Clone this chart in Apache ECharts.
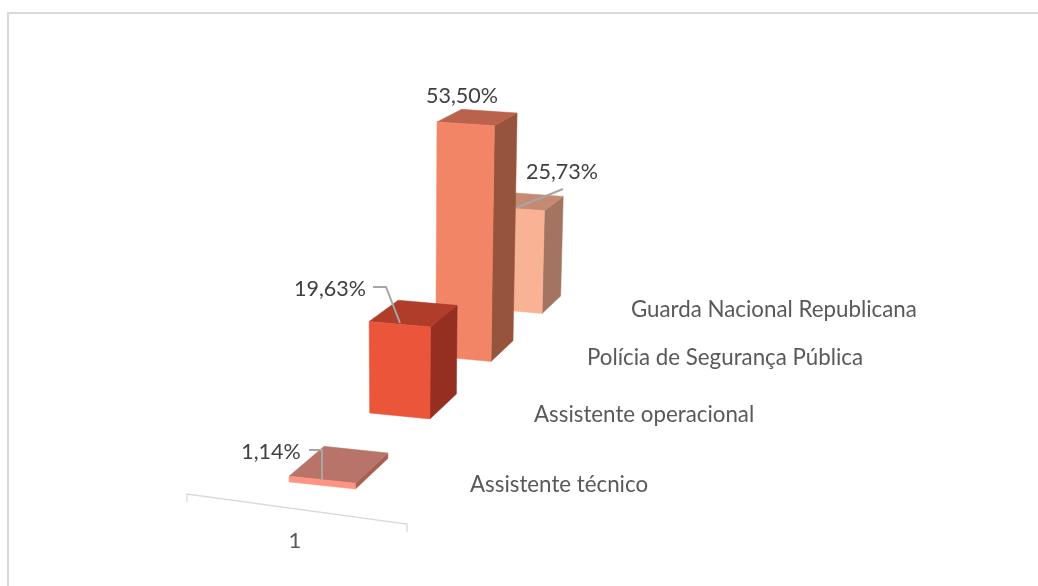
<!DOCTYPE html>
<html>
<head>
<meta charset="utf-8">
<style>
    html, body { margin: 0; padding: 0; background: #fff; }
    #chart { width: 1038px; height: 586px; }
</style>
<script src="https://cdn.jsdelivr.net/npm/echarts@6/dist/echarts.min.js"></script>
</head>
<body>
<div id="chart"></div>
<script>
    var categories = ["Assistente técnico", "Assistente operacional", "Polícia de Segurança Pública", "Guarda Nacional Republicana"];
    var shares = [1.14, 19.63, 53.5, 25.73];
    var xTick = ["1"];

    // colours per bar: front, top, side
    var frontColors = ["#FF9482", "#EB553A", "#F38567", "#F9B294"];
    var topColors = ["#B87468", "#B03C2A", "#BA634C", "#C48A72"];
    var sideColors = ["#A85F52", "#952F22", "#96543D", "#A37560"];

    // where the labels sit on the page, and the leader from label to bar
    var labelAt = [[271, 452], [330, 289], [462, 96], [562, 172]];
    var leaders = [
        [[309, 450], [322, 450], [322, 479]],
        [[373, 287], [386, 287], [400, 323]],
        [],
        [[516, 208], [563, 189]]
    ];
    var nameAt = [[470, 485], [534, 415], [587, 358], [631, 310]];

    // hidden grid: one band = 1 depth step, 50% = 1 world unit of height
    var gridBox = { left: 100, top: 100, width: 400, height: 300 };
    var yMax = 60;
    var barDepth = 0.41;
    var H = [63.726148, -16.996253, 120.581235, 289.167917,
             3.612010, -271.739104, -24.106638, 481.877477,
             -0.007215, -0.042085, 0.108505];

    // fitted perspective camera of the original 3D chart
    function project(x, y, z) {
        var w = H[8] * x + H[9] * y + H[10] * z + 1;
        return [
            (H[0] * x + H[1] * y + H[2] * z + H[3]) / w,
            (H[4] * x + H[5] * y + H[6] * z + H[7]) / w
        ];
    }

    // turn the pixel position from the hidden axes into world coordinates
    function toWorld(api, idx, val) {
        var p = api.coord([idx, val]);
        var band = gridBox.width / categories.length;
        return {
            z: (p[0] - gridBox.left) / band - 0.5,
            y: (gridBox.top + gridBox.height - p[1]) / gridBox.height * yMax / 50
        };
    }

    function poly(points, fill) {
        return {
            type: "polygon",
            shape: { points: points },
            style: { fill: fill, stroke: fill, lineWidth: 0.5 }
        };
    }

    function renderBar(params, api) {
        var idx = api.value(0);
        var w = toWorld(api, idx, api.value(1));
        var z0 = w.z, z1 = w.z + barDepth, y = w.y;
        return {
            type: "group",
            children: [
                poly([project(1, 0, z0), project(1, 0, z1), project(1, y, z1), project(1, y, z0)], sideColors[idx]),
                poly([project(0, y, z0), project(1, y, z0), project(1, y, z1), project(0, y, z1)], topColors[idx]),
                poly([project(0, 0, z0), project(1, 0, z0), project(1, y, z0), project(0, y, z0)], frontColors[idx])
            ]
        };
    }

    function renderLabel(params, api) {
        var idx = api.value(0);
        var kids = [{
            type: "text",
            style: {
                x: labelAt[idx][0],
                y: labelAt[idx][1],
                text: api.value(1).toFixed(2).replace(".", ",") + "%",
                fill: "#404040",
                font: "21.5px Lato",
                align: "center",
                verticalAlign: "middle"
            }
        }];
        if (leaders[idx].length) {
            kids.push({
                type: "polyline",
                shape: { points: leaders[idx] },
                style: { fill: "none", stroke: "#A6A6A6", lineWidth: 2 }
            });
        }
        return { type: "group", children: kids };
    }

    // back bars first so the front ones cover them
    var barData = shares.map(function (v, i) { return [i, v]; }).reverse();

    var axisGraphics = [
        { type: "rect", silent: true, shape: { x: 7, y: 12, width: 1031, height: 2 }, style: { fill: "#D9D9D9" } },
        { type: "rect", silent: true, shape: { x: 7, y: 12, width: 2, height: 574 }, style: { fill: "#D9D9D9" } },
        {
            type: "polyline",
            silent: true,
            shape: { points: [[187, 502], [187, 494], [407, 524], [407, 532]] },
            style: { fill: "none", stroke: "#D9D9D9", lineWidth: 1.3 }
        },
        {
            type: "text",
            silent: true,
            style: { x: 295, y: 541, text: xTick[0], fill: "#595959", font: "22px Lato", align: "center", verticalAlign: "middle" }
        }
    ];
    categories.forEach(function (name, i) {
        axisGraphics.push({
            type: "text",
            silent: true,
            style: { x: nameAt[i][0], y: nameAt[i][1], text: name, fill: "#595959", font: "22.3px Lato", align: "left", verticalAlign: "middle" }
        });
    });

    var chart = echarts.init(document.getElementById("chart"));
    chart.setOption({
        animation: false,
        backgroundColor: "#fff",
        grid: gridBox,
        xAxis: { type: "category", data: categories, show: false },
        yAxis: { type: "value", min: 0, max: yMax, show: false },
        graphic: axisGraphics,
        series: [
            { type: "custom", renderItem: renderBar, data: barData, encode: { x: 0, y: 1 }, z: 2, silent: true },
            { type: "custom", renderItem: renderLabel, data: barData, encode: { x: 0, y: 1 }, z: 3, silent: true }
        ]
    });
</script>
</body>
</html>
